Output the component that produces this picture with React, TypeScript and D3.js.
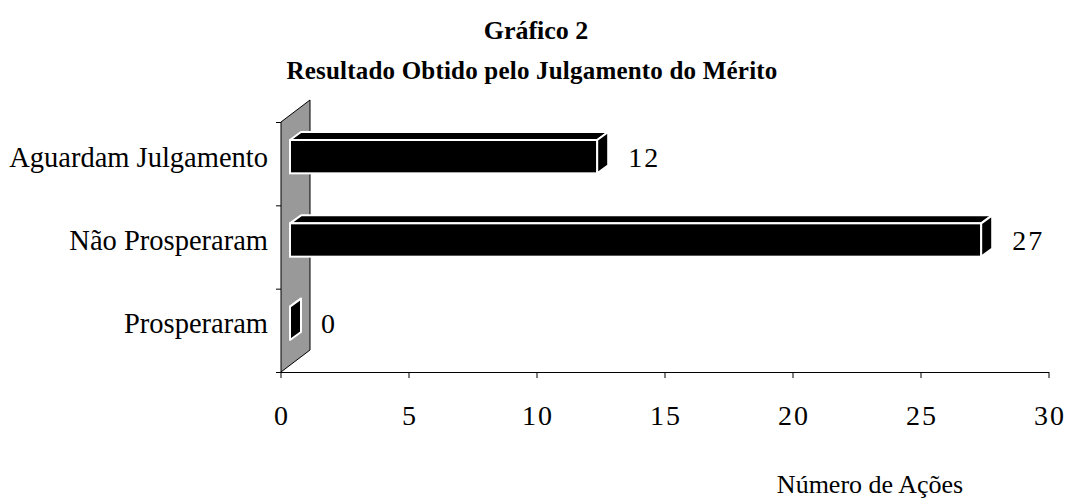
import * as d3 from 'd3'

// categories top to bottom, as in the picture
const categories = ['Aguardam Julgamento', 'Não Prosperaram', 'Prosperaram']
const values = [12, 27, 0]
const xTicks = [0, 5, 10, 15, 20, 25, 30]
const title = ['Gráfico 2', 'Resultado Obtido pelo Julgamento do Mérito']
const xTitle = 'Número de Ações'

export default function App() {
    const width = 1066
    const height = 501
    const font = "'Liberation Serif', serif"

    const x = d3.scaleLinear().domain([0, 30]).range([281, 1049])
    const y = d3.scaleBand().domain(categories).range([122, 372])

    // oblique depth of the 3d wall, and where the bars sit inside it
    const depth = {dx: 29, dy: -22}
    const front = {dx: 9, dy: -7}
    const back = {dx: 20, dy: -15}
    const barH = y.bandwidth() * 0.4

    const x0 = x(0)
    const yTop = y.range()[0]
    const yBot = y.range()[1]

    const wall = [
        [x0, yBot], [x0, yTop], [x0 + depth.dx, yTop + depth.dy], [x0 + depth.dx, yBot + depth.dy]
    ].map(p => p.join(',')).join(' ')

    const yTicks = [yTop, ...categories.map(c => y(c)! + y.bandwidth())]

    return (
        <svg width={width} height={height} style={{position: 'absolute', left: 0, top: 0, background: 'white'}}>
            <text x={536} y={39} textAnchor="middle" fontFamily={font} fontWeight="bold" fontSize={26}>{title[0]}</text>
            <text x={532} y={79} textAnchor="middle" fontFamily={font} fontWeight="bold" fontSize={25} letterSpacing={0.2}>{title[1]}</text>

            <polygon points={wall} fill="#999999" stroke="black" strokeWidth={1} />

            {/* x axis */}
            <line x1={276} x2={x(30)} y1={yBot + 0.5} y2={yBot + 0.5} stroke="black" />
            {xTicks.map(t => (
                <g key={t}>
                    <line x1={x(t)} x2={x(t)} y1={yBot} y2={yBot + 6} stroke="black" />
                    <text x={x(t) + 1} y={425} textAnchor="middle" fontFamily={font} fontSize={28} letterSpacing={2}>{t}</text>
                </g>
            ))}
            {yTicks.map((t, i) => (
                <line key={i} x1={276} x2={x0} y1={t + 0.5} y2={t + 0.5} stroke="black" />
            ))}

            {categories.map((c, i) => {
                const cy = y(c)! + y.bandwidth() / 2
                const v = values[i]
                const fx0 = x0 + front.dx
                const fx1 = x(v) + front.dx
                const fy0 = cy + front.dy - barH / 2
                const fy1 = cy + front.dy + barH / 2
                const bx = back.dx - front.dx
                const by = back.dy - front.dy
                const topFace = `${fx0},${fy0} ${fx0 + bx},${fy0 + by} ${fx1 + bx},${fy0 + by} ${fx1},${fy0}`
                const sideFace = `${fx1},${fy0} ${fx1 + bx},${fy0 + by} ${fx1 + bx},${fy1 + by} ${fx1},${fy1}`
                return (
                    <g key={c}>
                        <text x={268} y={cy + front.dy + 10} textAnchor="end" fontFamily={font} fontSize={28.5}>{c}</text>
                        <polygon points={topFace} fill="black" stroke="white" strokeWidth={2} strokeLinejoin="round" />
                        {v > 0 && (
                            <rect x={fx0} y={fy0} width={fx1 - fx0} height={fy1 - fy0} fill="black" stroke="white" strokeWidth={2} />
                        )}
                        <polygon points={sideFace} fill="black" stroke="white" strokeWidth={2} strokeLinejoin="round" />
                        <text x={x(v) + back.dx + 20} y={cy + front.dy + 10} fontFamily={font} fontSize={28} letterSpacing={2}>{v}</text>
                    </g>
                )
            })}

            <text x={870} y={493} textAnchor="middle" fontFamily={font} fontSize={26}>{xTitle}</text>
        </svg>
    )
}
